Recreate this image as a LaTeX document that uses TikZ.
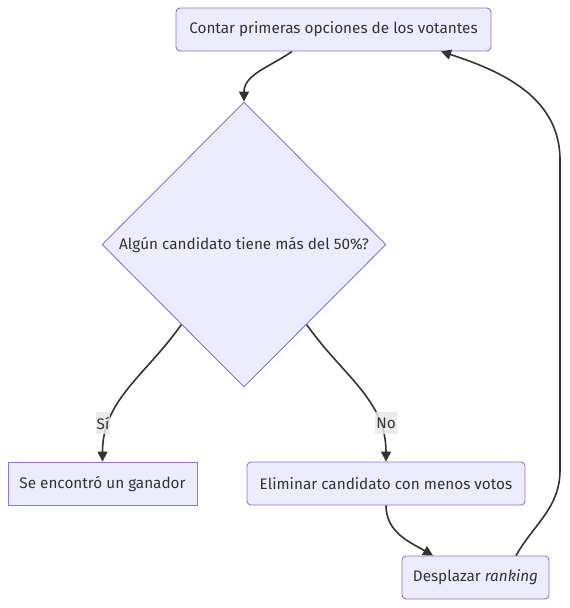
\documentclass[tikz,border=0pt]{standalone}
\usepackage{fontspec}
\setmainfont{Fira Sans}
\usetikzlibrary{shapes.geometric,arrows.meta,calc}
\definecolor{boxfill}{HTML}{ECECFF}
\definecolor{boxline}{HTML}{9370DB}
\definecolor{edgecol}{HTML}{333333}
\definecolor{lblfill}{HTML}{E8E8E8}
\begin{document}
\begin{tikzpicture}[x=1pt,y=1pt]
      \tikzstyle{every node}+=[inner sep=0pt, text=edgecol, font=\fontsize{15.3}{18}\selectfont]
      \tikzstyle{stepbox}=[draw=boxline, fill=boxfill, line width=0.9pt, rounded corners=4pt, minimum height=43pt]
      \tikzstyle{flow}=[draw=edgecol, line width=1.6pt, -{Triangle[length=10pt,width=10pt]}]
      \tikzstyle{lbl}=[fill=lblfill, fill opacity=0.85, text opacity=1, inner xsep=1pt, minimum height=22pt]
      \useasboundingbox (0,0) rectangle (570,-608);
      \node [stepbox, minimum width=315pt] (count) at (333.5,-29.5) {Contar primeras opciones de los votantes};
      \node [diamond, draw=boxline, fill=boxfill, line width=0.9pt, minimum width=284pt, minimum height=285pt] (majority) at (244,-244.5) {Algún candidato tiene más del 50\%?};
      \node [stepbox, rounded corners=0pt, minimum width=189pt] (winner) at (102.5,-483.5) {Se encontró un ganador};
      \node [stepbox, minimum width=278pt] (drop) at (386,-483.5) {Eliminar candidato con menos votos};
      \node [stepbox, minimum width=147pt] (shift) at (475.5,-577.5) {Desplazar \textit{ranking}};
      \draw [flow] ([xshift=-41.5pt]count.south) to[out=-145, in=90] (majority.north);
      \draw [flow] ($(majority.west)!0.56!(majority.south)$) to[out=-125, in=90] (winner.north);
      \draw [flow] ($(majority.east)!0.56!(majority.south)$) to[out=-55, in=90] (drop.north);
      \draw [flow] (drop.south) to[out=-90, in=150] ([xshift=-42.5pt]shift.north);
      \draw [flow] ([xshift=40.5pt]shift.north) to[out=60, in=-90] (560,-470) -- (560,-160) to[out=90, in=-18] ([xshift=107.5pt]count.south);
      \node [lbl] (yes) at (103,-423) {Sí};
      \node [lbl] (no) at (386,-423) {No};
      \end{tikzpicture}
\end{document}
